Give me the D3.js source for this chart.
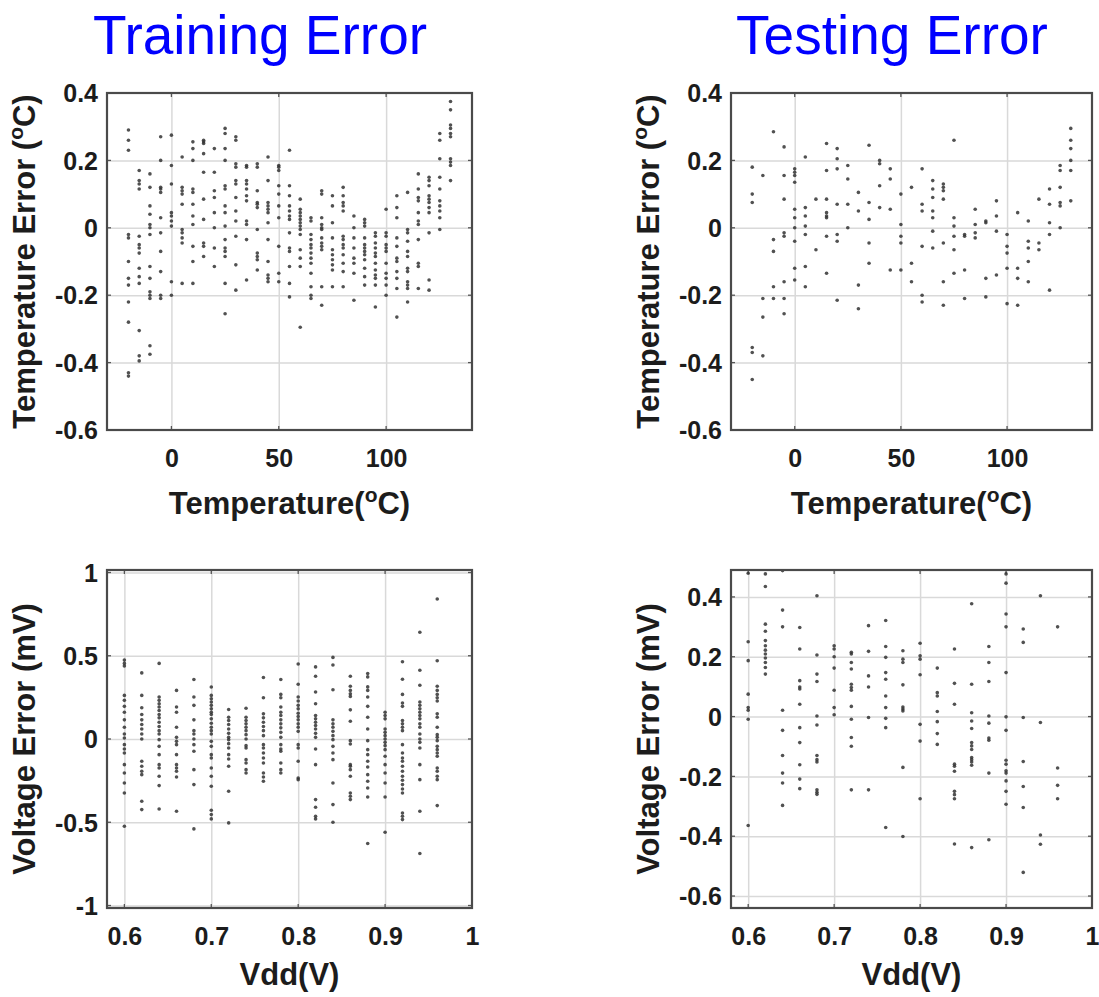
<!DOCTYPE html>
<html>
<head>
<meta charset="utf-8">
<script src="https://cdn.jsdelivr.net/npm/d3@7"></script>
<style>
  html, body { margin: 0; padding: 0; background: #ffffff; }
  svg { display: block; }
  text { font-family: "Liberation Sans", Arial, Helvetica, sans-serif; }
</style>
</head>
<body>
<div id="chart"></div>
<script>
// ---------- data ----------
// temperature sweep points (°C), shared by training and testing
const tempPoints = [-20, -15, -10, -5, 0, 5, 10, 15, 20, 25, 30, 35, 40, 45, 50, 55,
  60, 65, 70, 75, 80, 85, 90, 95, 100, 105, 110, 115, 120, 125, 130];

// supply voltage sweep points (V)
const vddPoints = [0.60, 0.62, 0.64, 0.66, 0.68, 0.70, 0.72, 0.74, 0.76, 0.78,
  0.80, 0.82, 0.84, 0.86, 0.88, 0.90, 0.92, 0.94, 0.96];

// training temperature error (°C), one list per temperature point
const trainTempError = [
  [0.29, 0.26, 0.23, -0.02, -0.03, -0.10, -0.15, -0.17, -0.22, -0.28, -0.43, -0.44],
  [0.17, 0.14, 0.13, 0.115, -0.025, -0.05, -0.06, -0.075, -0.12, -0.145, -0.165, -0.305, -0.38, -0.395],
  [0.16, 0.12, 0.065, 0.04, 0.01, 0.0, -0.02, -0.115, -0.15, -0.19, -0.2, -0.21, -0.35, -0.375],
  [0.27, 0.2, 0.12, 0.115, 0.105, 0.03, -0.015, -0.07, -0.13, -0.2, -0.21],
  [0.275, 0.185, 0.13, 0.045, 0.035, 0.02, 0.005, -0.16, -0.2],
  [0.21, 0.12, 0.11, 0.1, 0.07, -0.005, -0.015, -0.03, -0.045, -0.165],
  [0.255, 0.235, 0.2, 0.115, 0.105, 0.07, 0.035, 0.01, -0.055, -0.1, -0.165],
  [0.26, 0.255, 0.25, 0.22, 0.165, 0.085, 0.025, -0.045, -0.055, -0.085],
  [0.235, 0.165, 0.11, 0.09, 0.045, 0.0, -0.06, -0.115],
  [0.295, 0.28, 0.235, 0.2, 0.125, 0.115, 0.065, 0.045, 0.005, -0.035, -0.06, -0.07, -0.085, -0.165, -0.255],
  [0.27, 0.26, 0.19, 0.18, 0.14, 0.13, 0.09, 0.05, 0.02, -0.025, -0.11, -0.185],
  [0.185, 0.18, 0.14, 0.13, 0.115, 0.095, 0.08, 0.02, 0.01, -0.035, -0.155],
  [0.19, 0.18, 0.11, 0.075, 0.07, 0.06, -0.005, -0.075, -0.085, -0.095, -0.125],
  [0.21, 0.14, 0.075, 0.065, 0.055, 0.045, 0.015, -0.035, -0.1, -0.14, -0.15, -0.16],
  [0.185, 0.18, 0.17, 0.125, 0.1, 0.065, 0.03, -0.055, -0.135, -0.16],
  [0.23, 0.125, 0.095, 0.065, 0.05, 0.035, 0.025, -0.015, -0.06, -0.07, -0.115, -0.165, -0.205],
  [0.085, 0.055, 0.045, 0.035, 0.025, 0.015, 0.005, -0.005, -0.02, -0.065, -0.09, -0.115, -0.295],
  [0.03, 0.02, -0.02, -0.035, -0.05, -0.06, -0.075, -0.09, -0.105, -0.135, -0.175, -0.2, -0.21],
  [0.11, 0.1, 0.03, 0.01, 0.0, -0.005, -0.03, -0.045, -0.055, -0.065, -0.175, -0.23],
  [0.095, 0.065, 0.015, -0.03, -0.065, -0.08, -0.095, -0.11, -0.125, -0.175],
  [0.12, 0.095, 0.075, 0.065, 0.05, -0.025, -0.035, -0.05, -0.06, -0.08, -0.105, -0.13, -0.175],
  [0.035, 0.0, -0.03, -0.06, -0.09, -0.105, -0.135, -0.215],
  [0.025, 0.015, 0.005, -0.03, -0.05, -0.06, -0.07, -0.08, -0.095, -0.12, -0.145, -0.17],
  [-0.015, -0.025, -0.045, -0.06, -0.075, -0.085, -0.105, -0.125, -0.14, -0.15, -0.17, -0.235],
  [0.055, -0.015, -0.025, -0.05, -0.06, -0.07, -0.105, -0.135, -0.15, -0.17, -0.2],
  [0.095, 0.06, 0.03, -0.03, -0.055, -0.09, -0.1, -0.13, -0.15, -0.18, -0.265],
  [0.105, -0.005, -0.015, -0.04, -0.07, -0.085, -0.12, -0.13, -0.16, -0.17, -0.18, -0.22],
  [0.16, 0.115, 0.09, 0.08, 0.045, 0.02, 0.01, -0.035, -0.105, -0.115, -0.18],
  [0.15, 0.14, 0.125, 0.095, 0.085, 0.075, 0.06, 0.045, -0.015, -0.155, -0.185],
  [0.28, 0.26, 0.205, 0.15, 0.115, 0.08, 0.065, 0.05, 0.03, -0.005],
  [0.375, 0.35, 0.305, 0.295, 0.28, 0.27, 0.205, 0.195, 0.185, 0.14]
];

// testing temperature error (°C), one list per temperature point
const testTempError = [
  [0.18, 0.1, 0.075, -0.355, -0.37, -0.45],
  [0.155, -0.21, -0.265, -0.38],
  [0.285, -0.035, -0.07, -0.175, -0.21],
  [0.24, 0.155, 0.085, -0.015, -0.025, -0.16, -0.21, -0.255],
  [0.175, 0.165, 0.155, 0.135, 0.055, 0.03, 0.0, -0.04, -0.12, -0.155],
  [0.21, 0.06, 0.035, 0.005, -0.02, -0.115, -0.175],
  [0.085, -0.065],
  [0.25, 0.17, 0.085, 0.045, 0.035, 0.03, -0.025, -0.135],
  [0.235, 0.205, 0.175, 0.07, -0.02, -0.04, -0.215],
  [0.185, 0.145, 0.07, 0.0],
  [0.105, 0.05, -0.17, -0.24],
  [0.245, 0.075, 0.025, -0.045, -0.105],
  [0.2, 0.19, 0.125, 0.06],
  [0.175, 0.145, 0.055, -0.125],
  [0.1, 0.01, -0.025, -0.045, -0.125],
  [0.12, -0.105, -0.16],
  [0.175, 0.07, 0.05, -0.055, -0.2, -0.22],
  [0.14, 0.115, 0.09, 0.05, 0.03, -0.01, -0.06],
  [0.13, 0.12, 0.11, 0.085, -0.045, -0.16, -0.23],
  [0.26, 0.03, 0.005, -0.025, -0.065, -0.135],
  [-0.02, -0.025, -0.125, -0.21],
  [0.055, 0.01, -0.015, -0.03],
  [0.02, 0.015, -0.15, -0.205],
  [0.08, 0.035, -0.01, -0.14],
  [-0.02, -0.055, -0.075, -0.12, -0.225],
  [0.045, -0.12, -0.15, -0.23],
  [0.02, -0.04, -0.06, -0.1, -0.16],
  [0.085, -0.045, -0.065],
  [0.115, 0.07, 0.015, -0.02, -0.185],
  [0.185, 0.17, 0.12, 0.075, 0.065, 0.0],
  [0.295, 0.26, 0.235, 0.2, 0.17, 0.08]
];

// training voltage error (mV), one list per Vdd point
const trainVoltError = [
  [0.474, 0.454, 0.438, 0.262, 0.232, 0.196, 0.161, 0.115, 0.071, 0.03, 0.006, -0.034, -0.06, -0.084, -0.154, -0.204, -0.264, -0.324, -0.524],
  [0.397, 0.262, 0.188, 0.147, 0.115, 0.087, 0.06, 0.03, 0.0, -0.134, -0.164, -0.194, -0.214, -0.374, -0.424],
  [0.454, 0.252, 0.232, 0.212, 0.192, 0.171, 0.147, 0.127, 0.101, 0.075, 0.05, 0.03, -0.004, -0.044, -0.094, -0.154, -0.174, -0.224, -0.28, -0.42],
  [0.292, 0.192, 0.161, 0.071, 0.01, -0.014, -0.034, -0.094, -0.154, -0.174, -0.194, -0.228, -0.434],
  [0.357, 0.252, 0.202, 0.115, 0.05, 0.03, 0.0, -0.034, -0.074, -0.184, -0.274, -0.54],
  [0.312, 0.262, 0.242, 0.222, 0.202, 0.181, 0.161, 0.147, 0.121, 0.095, 0.071, 0.05, 0.03, -0.014, -0.044, -0.094, -0.114, -0.174, -0.224, -0.284, -0.428, -0.454, -0.48],
  [0.177, 0.131, 0.111, 0.087, 0.06, 0.034, 0.01, -0.004, -0.028, -0.054, -0.094, -0.12, -0.164, -0.314, -0.504],
  [0.185, 0.131, 0.111, 0.091, 0.071, 0.05, 0.026, 0.0, -0.04, -0.054, -0.124, -0.144, -0.184, -0.204],
  [0.369, 0.248, 0.151, 0.127, 0.101, 0.075, 0.05, 0.02, -0.034, -0.054, -0.084, -0.114, -0.144, -0.204, -0.228, -0.254],
  [0.357, 0.268, 0.248, 0.192, 0.161, 0.141, 0.115, 0.091, 0.067, 0.04, 0.01, -0.034, -0.06, -0.074, -0.144, -0.184, -0.204],
  [0.45, 0.329, 0.252, 0.228, 0.202, 0.181, 0.155, 0.135, 0.115, 0.091, 0.071, 0.046, -0.034, -0.054, -0.134, -0.234, -0.244],
  [0.433, 0.377, 0.282, 0.212, 0.141, 0.121, 0.101, 0.081, 0.06, 0.034, 0.01, -0.06, -0.154, -0.364, -0.41, -0.464, -0.48],
  [0.49, 0.444, 0.296, 0.115, 0.091, 0.071, 0.046, 0.02, -0.004, -0.044, -0.084, -0.124, -0.264, -0.394, -0.5],
  [0.377, 0.317, 0.292, 0.272, 0.256, 0.175, 0.107, -0.01, -0.03, -0.154, -0.164, -0.184, -0.224, -0.324, -0.344, -0.364],
  [0.393, 0.373, 0.313, 0.292, 0.252, 0.196, 0.131, 0.06, -0.01, -0.064, -0.094, -0.134, -0.168, -0.214, -0.254, -0.294, -0.348, -0.628],
  [0.161, 0.141, 0.121, 0.06, 0.04, 0.02, 0.0, -0.02, -0.04, -0.064, -0.104, -0.154, -0.204, -0.264, -0.348, -0.56],
  [0.464, 0.359, 0.268, 0.216, 0.196, 0.111, 0.091, 0.071, 0.05, -0.034, -0.084, -0.114, -0.134, -0.164, -0.194, -0.224, -0.248, -0.274, -0.3, -0.324, -0.444, -0.464, -0.484],
  [0.641, 0.413, 0.323, 0.222, 0.202, 0.181, 0.161, 0.141, 0.121, 0.091, 0.071, 0.03, 0.0, -0.02, -0.054, -0.154, -0.244, -0.434, -0.688],
  [0.841, 0.47, 0.317, 0.292, 0.268, 0.248, 0.228, 0.151, 0.131, 0.071, 0.026, 0.01, -0.01, -0.044, -0.064, -0.084, -0.104, -0.174, -0.194, -0.224, -0.244, -0.4]
];

// testing voltage error (mV), one list per Vdd point
const testVoltError = [
  [0.479, 0.25, 0.187, 0.075, 0.03, 0.021, -0.009, -0.364],
  [0.477, 0.435, 0.309, 0.285, 0.254, 0.237, 0.222, 0.209, 0.196, 0.181, 0.164, 0.142],
  [0.488, 0.356, 0.3, 0.021, -0.046, -0.13, -0.189, -0.222, -0.297],
  [0.298, 0.226, 0.12, 0.099, 0.092, 0.041, -0.037, -0.087, -0.161, -0.209, -0.241],
  [0.404, 0.206, 0.142, 0.117, 0.002, -0.028, -0.13, -0.144, -0.152, -0.245, -0.253, -0.26],
  [0.237, 0.226, 0.2, 0.162, 0.088, 0.03, 0.006],
  [0.215, 0.209, 0.181, 0.159, 0.108, 0.097, 0.088, 0.034, -0.009, -0.07, -0.099, -0.245],
  [0.304, 0.218, 0.136, 0.099, -0.003, -0.245],
  [0.321, 0.234, 0.198, 0.147, 0.125, 0.069, 0.03, -0.006, -0.037, -0.371],
  [0.22, 0.192, 0.181, 0.106, 0.032, 0.025, 0.019, -0.17, -0.401],
  [0.245, 0.203, 0.192, 0.14, -0.026, -0.082, -0.275],
  [0.162, 0.08, 0.069, 0.017, -0.017, -0.057, -0.093],
  [0.226, 0.111, 0.041, -0.159, -0.166, -0.183, -0.25, -0.261, -0.275, -0.426],
  [0.377, 0.108, 0.013, -0.015, -0.04, -0.087, -0.098, -0.11, -0.137, -0.144, -0.152, -0.163, -0.438],
  [0.234, 0.181, 0.117, 0.002, -0.022, -0.072, -0.079, -0.189, -0.412],
  [0.477, 0.446, 0.343, 0.3, 0.147, -0.001, -0.046, -0.146, -0.159, -0.181, -0.189, -0.215, -0.25, -0.293],
  [0.293, 0.248, -0.003, -0.15, -0.234, -0.304, -0.521],
  [0.404, -0.02, -0.396, -0.427],
  [0.3, -0.172, -0.23, -0.275]
];

// axis ticks
const tempTicks = [0, 50, 100];
const vddTicks = [0.6, 0.7, 0.8, 0.9, 1];
const tempErrTicks = [-0.6, -0.4, -0.2, 0, 0.2, 0.4];
const trainVoltErrTicks = [-1, -0.5, 0, 0.5, 1];
const testVoltErrTicks = [-0.6, -0.4, -0.2, 0, 0.2, 0.4];

// column titles
const columnTitles = ["Training Error", "Testing Error"];

// ---------- drawing ----------
const W = 1099, H = 997;
const svg = d3.select("#chart").append("svg")
  .attr("width", W).attr("height", H)
  .attr("viewBox", `0 0 ${W} ${H}`);

svg.append("rect").attr("width", W).attr("height", H).attr("fill", "#fff");

const TEXT = "#1c1c1c";
const TICK_FONT = 25;
const LABEL_FONT = 31;

// flatten column-wise lists into x/y pairs
function toPoints(xs, cols) {
  const out = [];
  xs.forEach((x, i) => cols[i].forEach(y => out.push({ x, y })));
  return out;
}

const panels = [
  { left: 107, top: 93, width: 365, height: 337, xDomain: [-30, 140], yDomain: [-0.6, 0.4],
    xTicks: tempTicks, yTicks: tempErrTicks, xs: tempPoints, cols: trainTempError,
    xLabel: "temp", yLabel: "Temperature Error", yUnit: "temp", xLabelY: 514 },
  { left: 731, top: 93, width: 361, height: 337, xDomain: [-30, 140], yDomain: [-0.6, 0.4],
    xTicks: tempTicks, yTicks: tempErrTicks, xs: tempPoints, cols: testTempError,
    xLabel: "temp", yLabel: "Temperature Error", yUnit: "temp", xLabelY: 514 },
  { left: 107, top: 570, width: 365, height: 338, xDomain: [0.58, 1.0], yDomain: [-1.015, 1.015],
    xTicks: vddTicks, yTicks: trainVoltErrTicks, xs: vddPoints, cols: trainVoltError,
    xLabel: "vdd", yLabel: "Voltage Error (mV)", yUnit: null, xLabelY: 985 },
  { left: 731, top: 570, width: 361, height: 338, xDomain: [0.58, 1.0], yDomain: [-0.64, 0.49],
    xTicks: vddTicks, yTicks: testVoltErrTicks, xs: vddPoints, cols: testVoltError,
    xLabel: "vdd", yLabel: "Voltage Error (mV)", yUnit: null, xLabelY: 985 }
];

const fmt = d => String(d);

panels.forEach((p, pi) => {
  const x = d3.scaleLinear().domain(p.xDomain).range([0, p.width]);
  const y = d3.scaleLinear().domain(p.yDomain).range([p.height, 0]);
  const g = svg.append("g").attr("transform", `translate(${p.left},${p.top})`);

  // grid lines
  g.append("g")
    .attr("transform", `translate(0,${p.height})`)
    .call(d3.axisBottom(x).tickValues(p.xTicks.filter(v => v < p.xDomain[1])).tickSize(-p.height).tickFormat(""))
    .call(a => a.select(".domain").remove())
    .call(a => a.selectAll("line").attr("stroke", "#d9d9d9").attr("stroke-width", 1.5));
  g.append("g")
    .call(d3.axisLeft(y).tickValues(p.yTicks.filter(v => v > p.yDomain[0] && v < p.yDomain[1])).tickSize(-p.width).tickFormat(""))
    .call(a => a.select(".domain").remove())
    .call(a => a.selectAll("line").attr("stroke", "#d9d9d9").attr("stroke-width", 1.5));

  // inward tick marks on all four sides
  const tk = 4;
  const tickG = g.append("g").attr("stroke", "#555").attr("stroke-width", 1.3);
  p.xTicks.forEach(v => {
    const px = x(v);
    tickG.append("line").attr("x1", px).attr("x2", px).attr("y1", p.height).attr("y2", p.height - tk);
    tickG.append("line").attr("x1", px).attr("x2", px).attr("y1", 0).attr("y2", tk);
  });
  p.yTicks.forEach(v => {
    const py = y(v);
    if (py < -0.5 || py > p.height + 0.5) return;
    tickG.append("line").attr("x1", 0).attr("x2", tk).attr("y1", py).attr("y2", py);
    tickG.append("line").attr("x1", p.width).attr("x2", p.width - tk).attr("y1", py).attr("y2", py);
  });

  // data points, clipped to the plot box
  const clipId = `clip${pi}`;
  g.append("clipPath").attr("id", clipId)
    .append("rect").attr("width", p.width).attr("height", p.height);
  g.append("g").attr("clip-path", `url(#${clipId})`)
    .selectAll("circle")
    .data(toPoints(p.xs, p.cols))
    .join("circle")
    .attr("cx", d => x(d.x))
    .attr("cy", d => y(d.y))
    .attr("r", 1.8)
    .attr("fill", "#333333")
    .attr("fill-opacity", 0.85);

  // box
  g.append("rect")
    .attr("width", p.width).attr("height", p.height)
    .attr("fill", "none").attr("stroke", "#4a4a4a").attr("stroke-width", 2.2);

  // tick labels
  g.append("g")
    .attr("transform", `translate(0,${p.height})`)
    .call(d3.axisBottom(x).tickValues(p.xTicks).tickSize(0).tickFormat(fmt))
    .call(a => a.select(".domain").remove())
    .call(a => a.selectAll("text")
      .attr("y", 37).attr("dy", null)
      .attr("fill", TEXT).attr("font-size", TICK_FONT).attr("font-weight", "bold")
      .attr("font-family", "'Liberation Sans', Arial, sans-serif"));
  g.append("g")
    .call(d3.axisLeft(y).tickValues(p.yTicks).tickSize(0).tickFormat(fmt))
    .call(a => a.select(".domain").remove())
    .call(a => a.selectAll("text")
      .attr("x", -9).attr("dy", "0.35em")
      .attr("fill", TEXT).attr("font-size", TICK_FONT).attr("font-weight", "bold")
      .attr("font-family", "'Liberation Sans', Arial, sans-serif"));

  // x axis title
  const xt = svg.append("text")
    .attr("x", p.left + p.width / 2).attr("y", p.xLabelY)
    .attr("text-anchor", "middle")
    .attr("font-size", LABEL_FONT).attr("font-weight", "bold").attr("fill", TEXT);
  if (p.xLabel === "temp") {
    xt.append("tspan").text("Temperature(");
    xt.append("tspan").attr("font-size", 21).attr("dy", -12).text("o");
    xt.append("tspan").attr("dy", 12).text("C)");
  } else {
    xt.text("Vdd(V)");
  }

  // y axis title
  const yt = svg.append("text")
    .attr("transform", `translate(${p.left - 72},${p.top + p.height / 2}) rotate(-90)`)
    .attr("text-anchor", "middle")
    .attr("font-size", LABEL_FONT).attr("font-weight", "bold").attr("fill", TEXT);
  if (p.yUnit === "temp") {
    yt.append("tspan").text(p.yLabel + " (");
    yt.append("tspan").attr("font-size", 21).attr("dy", -12).text("o");
    yt.append("tspan").attr("dy", 12).text("C)");
  } else {
    yt.text(p.yLabel);
  }
});

// column titles
[[260, columnTitles[0]], [892, columnTitles[1]]].forEach(([cx, t]) => {
  svg.append("text")
    .attr("x", cx).attr("y", 54)
    .attr("text-anchor", "middle")
    .attr("font-size", 55)
    .attr("fill", "#0000ff")
    .text(t);
});
</script>
</body>
</html>
